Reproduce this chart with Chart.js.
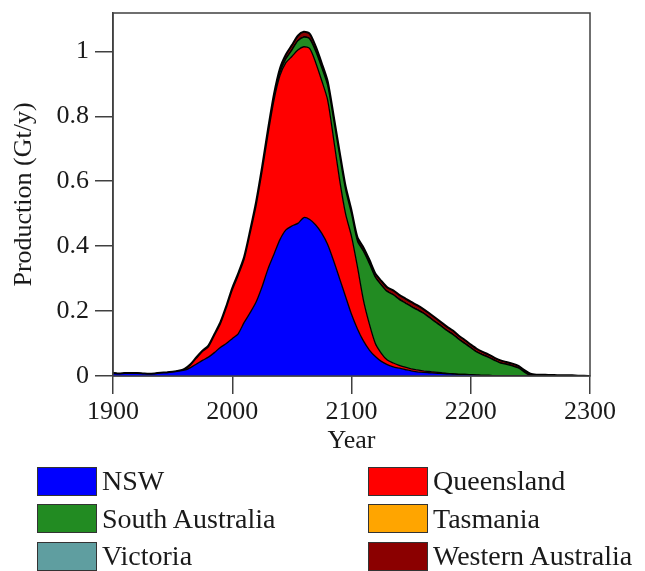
<!DOCTYPE html>
<html>
<head>
<meta charset="utf-8">
<script src="https://cdn.jsdelivr.net/npm/chart.js@4.4.1/dist/chart.umd.min.js"></script>
<style>
  html, body { margin: 0; padding: 0; background: #fff; }
  #wrap { position: relative; width: 645px; height: 571px; overflow: hidden; }
  #chartBox { position: absolute; left: 0; top: 0; width: 645px; height: 460px; }
  #legend { position: absolute; left: 0; top: 0; width: 645px; height: 571px; }
  .item { position: absolute; display: flex; align-items: center; height: 30px;
          font-family: "Liberation Serif", serif; font-size: 28px; color: #1a1a1a; }
  .swatch { width: 58px; height: 27px; border: 1.5px solid #333; margin-right: 5px; }
</style>
</head>
<body>
<div id="wrap">
  <div id="chartBox"><canvas id="coalChart"></canvas></div>
  <div id="legend"></div>
</div>
<script>
// Years, every 5 years
const years = [
  1900, 1905, 1910, 1915, 1920, 1925, 1930, 1935, 1940, 1945,
  1950, 1955, 1960, 1965, 1970, 1975, 1980, 1985, 1990, 1995,
  2000, 2005, 2010, 2015, 2020, 2025, 2030, 2035, 2040, 2045,
  2050, 2055, 2060, 2065, 2070, 2075, 2080, 2085, 2090, 2095,
  2100, 2105, 2110, 2115, 2120, 2125, 2130, 2135, 2140, 2145,
  2150, 2155, 2160, 2165, 2170, 2175, 2180, 2185, 2190, 2195,
  2200, 2205, 2210, 2215, 2220, 2225, 2230, 2235, 2240, 2245,
  2250, 2255, 2260, 2265, 2270, 2275, 2280, 2285, 2290, 2295,
  2300
];

// Production per state (Gt/y)
const nsw = [
  0.008, 0.007, 0.008, 0.008, 0.008, 0.007, 0.006, 0.007, 0.009, 0.010,
  0.012, 0.015, 0.018, 0.026, 0.037, 0.048, 0.058, 0.072, 0.088, 0.100,
  0.115, 0.130, 0.165, 0.195, 0.228, 0.275, 0.330, 0.375, 0.420, 0.450,
  0.462, 0.470, 0.488, 0.482, 0.465, 0.440, 0.405, 0.355, 0.300, 0.245,
  0.190, 0.145, 0.108, 0.080, 0.060, 0.045, 0.035, 0.028, 0.024, 0.020,
  0.016, 0.013, 0.011, 0.010, 0.009, 0.008, 0.007, 0.006, 0.005, 0.005,
  0.004, 0.003, 0.002, 0.002, 0.001, 0, 0, 0, 0, 0,
  0, 0, 0, 0, 0, 0, 0, 0, 0, 0,
  0
];
const queensland = [
  0, 0, 0, 0, 0, 0, 0, 0, 0, 0,
  0, 0, 0.002, 0.008, 0.018, 0.027, 0.032, 0.053, 0.072, 0.110,
  0.150, 0.180, 0.195, 0.245, 0.297, 0.355, 0.415, 0.475, 0.505, 0.515,
  0.522, 0.534, 0.526, 0.526, 0.500, 0.470, 0.445, 0.375, 0.305, 0.255,
  0.240, 0.191, 0.126, 0.080, 0.040, 0.025, 0.014, 0.012, 0.009, 0.007,
  0.006, 0.006, 0.005, 0.004, 0.003, 0.002, 0.001, 0.001, 0, 0,
  0, 0, 0, 0, 0, 0, 0, 0, 0, 0,
  0, 0, 0, 0, 0, 0, 0, 0, 0, 0,
  0
];
const southAustralia = [
  0, 0, 0, 0, 0, 0, 0, 0, 0, 0,
  0, 0, 0, 0, 0, 0, 0, 0, 0, 0,
  0, 0, 0, 0, 0.002, 0.003, 0.005, 0.007, 0.010, 0.012,
  0.020, 0.028, 0.030, 0.030, 0.035, 0.040, 0.045, 0.060, 0.075, 0.075,
  0.070, 0.080, 0.150, 0.186, 0.204, 0.210, 0.211, 0.210, 0.203, 0.198,
  0.192, 0.185, 0.178, 0.167, 0.155, 0.144, 0.132, 0.121, 0.108, 0.095,
  0.083, 0.071, 0.063, 0.055, 0.047, 0.040, 0.036, 0.031, 0.025, 0.012,
  0.002, 0, 0, 0, 0, 0, 0, 0, 0, 0,
  0
];
const tasmania = [
  0, 0, 0, 0, 0, 0, 0, 0, 0, 0,
  0, 0, 0, 0, 0, 0, 0, 0, 0, 0,
  0, 0, 0, 0, 0, 0, 0, 0, 0, 0,
  0, 0, 0, 0, 0, 0, 0, 0, 0, 0,
  0, 0, 0, 0, 0, 0, 0, 0, 0, 0,
  0, 0, 0, 0, 0, 0, 0, 0, 0, 0,
  0, 0, 0, 0, 0, 0, 0, 0, 0, 0,
  0, 0, 0, 0, 0, 0, 0, 0, 0, 0,
  0
];
const victoria = [
  0, 0, 0, 0, 0, 0, 0, 0, 0, 0,
  0, 0, 0, 0, 0, 0, 0, 0, 0, 0,
  0, 0, 0, 0, 0, 0, 0, 0, 0, 0,
  0, 0, 0, 0, 0, 0, 0, 0, 0, 0,
  0, 0, 0, 0, 0, 0, 0, 0, 0, 0,
  0, 0, 0, 0, 0, 0, 0, 0, 0, 0,
  0, 0, 0, 0, 0, 0, 0, 0, 0, 0,
  0, 0, 0, 0, 0, 0, 0, 0, 0, 0,
  0
];
const westernAustralia = [
  0.001, 0.001, 0.001, 0.001, 0.001, 0.001, 0.001, 0.001, 0.001, 0.001,
  0.001, 0.001, 0.002, 0.002, 0.003, 0.003, 0.004, 0.004, 0.005, 0.005,
  0.006, 0.006, 0.007, 0.008, 0.009, 0.010, 0.010, 0.011, 0.012, 0.013,
  0.015, 0.016, 0.016, 0.016, 0.015, 0.014, 0.013, 0.012, 0.011, 0.010,
  0.010, 0.011, 0.012, 0.012, 0.012, 0.013, 0.013, 0.014, 0.014, 0.014,
  0.014, 0.014, 0.013, 0.013, 0.013, 0.012, 0.012, 0.012, 0.011, 0.011,
  0.010, 0.010, 0.009, 0.009, 0.008, 0.008, 0.007, 0.007, 0.006, 0.006,
  0.005, 0.004, 0.004, 0.003, 0.003, 0.002, 0.002, 0.002, 0.001, 0.001,
  0
];

const xTicks = [1900, 2000, 2100, 2200, 2300];
const yTicks = [0, 0.2, 0.4, 0.6, 0.8, 1];

const states = ['NSW', 'Queensland', 'South Australia', 'Tasmania', 'Victoria', 'Western Australia'];
const series = [nsw, queensland, southAustralia, tasmania, victoria, westernAustralia];
const colors = ['#0000ff', '#ff0000', '#228b22', '#ffa500', '#5f9ea0', '#8b0000'];

const axisColor = '#404040';
const textColor = '#1a1a1a';
const font = { family: '"Liberation Serif", serif', size: 26 };

// box around the plot area
const framePlugin = {
  id: 'frame',
  afterDraw(chart) {
    const { ctx, chartArea: a } = chart;
    ctx.save();
    ctx.strokeStyle = axisColor;
    ctx.lineWidth = 1.5;
    ctx.strokeRect(a.left, a.top, a.right - a.left, a.bottom - a.top);
    ctx.restore();
  }
};

const datasets = series.map((values, i) => ({
  label: states[i],
  data: values.map((v, j) => ({ x: years[j], y: v })),
  backgroundColor: colors[i],
  borderColor: '#000',
  borderWidth: i === series.length - 1 ? 2 : 1.3,
  fill: i === 0 ? 'origin' : '-1',
  pointRadius: 0,
  tension: 0.25
}));

const chart = new Chart(document.getElementById('coalChart'), {
  type: 'line',
  data: { datasets: datasets },
  plugins: [framePlugin],
  options: {
    responsive: true,
    maintainAspectRatio: false,
    animation: false,
    layout: { padding: { left: 0, right: 55, top: 13, bottom: 0 } },
    plugins: {
      legend: { display: false },
      tooltip: { enabled: false }
    },
    scales: {
      x: {
        type: 'linear',
        min: 1900,
        max: 2300,
        afterFit: s => { s.height = 84; s.paddingLeft = 0; s.paddingRight = 0; },
        afterBuildTicks: s => { s.ticks = xTicks.map(v => ({ value: v })); },
        grid: { drawOnChartArea: false, color: axisColor, lineWidth: 1.5, tickLength: 18 },
        border: { color: axisColor, width: 1.5 },
        ticks: { color: textColor, font: font, padding: 3, maxRotation: 0, callback: v => String(v) },
        title: { display: true, text: 'Year', color: textColor, font: font, padding: 3 }
      },
      y: {
        stacked: true,
        min: 0,
        max: 1.118,
        afterFit: s => { s.width = 113; s.paddingTop = 0; s.paddingBottom = 0; },
        afterBuildTicks: s => { s.ticks = yTicks.map(v => ({ value: v })); },
        grid: { drawOnChartArea: false, color: axisColor, lineWidth: 1.5, tickLength: 18 },
        border: { color: axisColor, width: 1.5 },
        ticks: { color: textColor, font: font, padding: 6, callback: v => String(v) },
        title: { display: true, text: 'Production (Gt/y)', color: textColor, font: font, padding: 9 }
      }
    }
  }
});

// Legend in two columns below the chart
const legend = document.getElementById('legend');
const colLeft = [37, 368];
const rowTop = [466, 503.5, 541];
chart.data.datasets.forEach((ds, i) => {
  const item = document.createElement('div');
  item.className = 'item';
  item.style.left = colLeft[i % 2] + 'px';
  item.style.top = rowTop[Math.floor(i / 2)] + 'px';
  const sw = document.createElement('span');
  sw.className = 'swatch';
  sw.style.background = ds.backgroundColor;
  const label = document.createElement('span');
  label.textContent = ds.label;
  item.appendChild(sw);
  item.appendChild(label);
  legend.appendChild(item);
});
</script>
</body>
</html>
